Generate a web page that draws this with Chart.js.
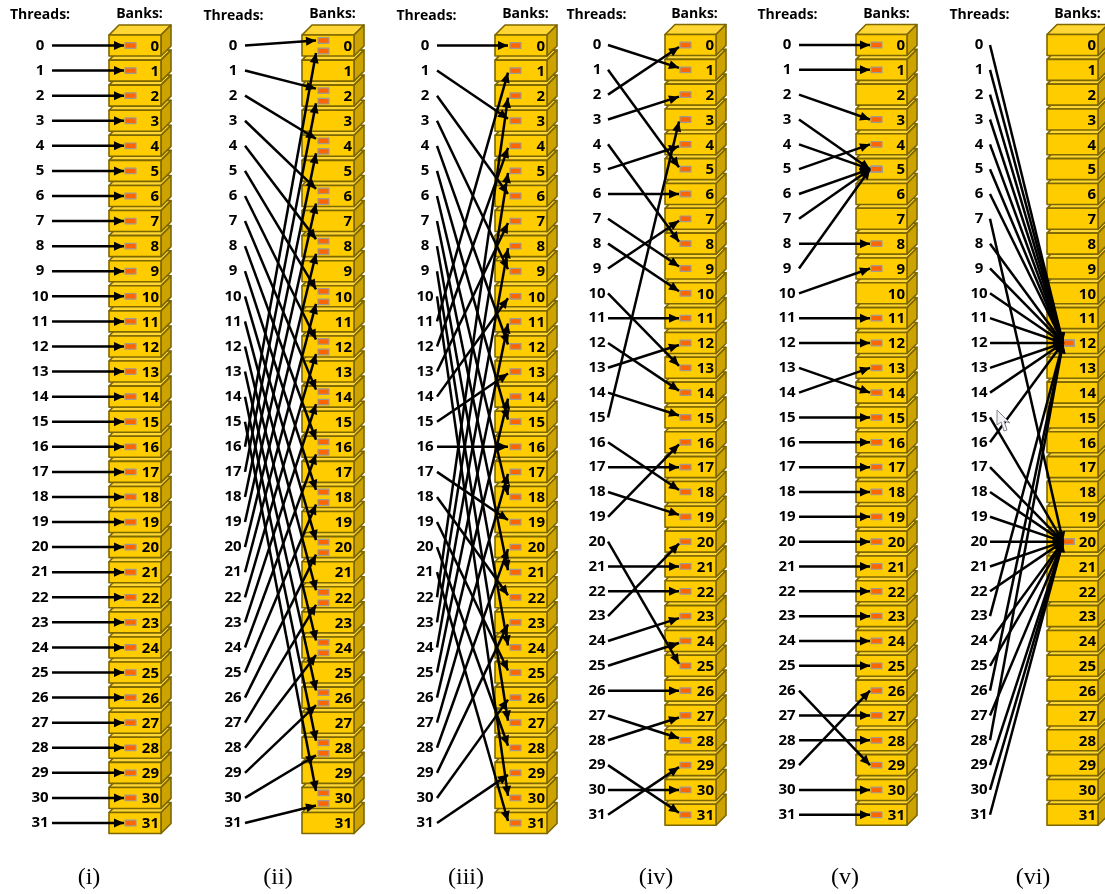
<!DOCTYPE html>
<html lang="en">
<head>
    <meta charset="UTF-8">
    <title>Threads to banks mappings</title>
    <script src="https://cdn.jsdelivr.net/npm/chart.js"></script>
    <style>
        html, body {
            margin: 0;
            padding: 0;
            background: #ffffff;
        }
        canvas {
            display: block;
        }
    </style>
</head>
<body>
    <canvas id="myChart" width="1105" height="894"></canvas>

    <script>
        // bank reached by each thread, index = thread number
        var banksI = [0, 1, 2, 3, 4, 5, 6, 7, 8, 9, 10, 11, 12, 13, 14, 15, 16, 17, 18, 19, 20, 21, 22, 23, 24, 25, 26, 27, 28, 29, 30, 31];
        var banksII = [0, 2, 4, 6, 8, 10, 12, 14, 16, 18, 20, 22, 24, 26, 28, 30, 0, 2, 4, 6, 8, 10, 12, 14, 16, 18, 20, 22, 24, 26, 28, 30];
        var banksIII = [0, 3, 6, 9, 12, 15, 18, 21, 24, 27, 30, 1, 4, 7, 10, 13, 16, 19, 22, 25, 28, 31, 2, 5, 8, 11, 14, 17, 20, 23, 26, 29];
        var banksIV = [1, 5, 0, 2, 8, 4, 6, 9, 10, 7, 13, 11, 14, 12, 15, 3, 18, 17, 19, 16, 25, 21, 22, 20, 23, 24, 26, 28, 27, 31, 30, 29];
        var banksV = [0, 1, 3, 5, 5, 4, 5, 5, 8, 5, 9, 11, 12, 14, 13, 15, 16, 17, 18, 19, 20, 21, 22, 23, 24, 25, 29, 27, 28, 26, 30, 31];
        var banksVI = [12, 12, 12, 12, 12, 12, 12, 20, 12, 12, 12, 12, 12, 12, 12, 20, 12, 20, 20, 20, 20, 20, 20, 12, 20, 20, 12, 20, 12, 20, 20, 20];

        // panel (ii) has two queues per bank: 0 = upper, 1 = lower
        var queuesII = [0, 0, 0, 0, 0, 0, 0, 0, 0, 0, 0, 0, 0, 0, 0, 0, 1, 1, 1, 1, 1, 1, 1, 1, 1, 1, 1, 1, 1, 1, 1, 1];

        var threadLabels = [];
        for (var n = 0; n < 32; n++) {
            threadLabels.push(String(n));
        }

        var panelNames = ['(i)', '(ii)', '(iii)', '(iv)', '(v)', '(vi)'];
        var panelBanks = [banksI, banksII, banksIII, banksIV, banksV, banksVI];

        // layout of the panels, in x scale units
        var panels = [
            { axis: 'y', threadX: 40, lineX: 52, tipX: 124, left: 109, right: 161, rectX: 125, threadsX: 40, banksX: 139.5, nameX: 89 },
            { axis: 'y', threadX: 233, lineX: 245, tipX: 316, left: 302, right: 354, rectX: 318, threadsX: 233.5, banksX: 332.5, nameX: 278 },
            { axis: 'y', threadX: 425, lineX: 437, tipX: 508, left: 495, right: 547, rectX: 510, threadsX: 426.5, banksX: 525.5, nameX: 466 },
            { axis: 'y2', threadX: 597, lineX: 608, tipX: 679, left: 665, right: 716, rectX: 680, threadsX: 596.5, banksX: 694.5, nameX: 656 },
            { axis: 'y2', threadX: 787, lineX: 799, tipX: 870, left: 856, right: 907, rectX: 871, threadsX: 787.5, banksX: 886.5, nameX: 845 },
            { axis: 'y2', threadX: 979, lineX: 990, tipX: 1063, left: 1047, right: 1098, rectX: 1063, threadsX: 979.5, banksX: 1077.5, nameX: 1033 }
        ];

        function queueOffset(panelIndex, thread) {
            return panelIndex === 1 ? (queuesII[thread] === 0 ? -0.2 : 0.22) : 0;
        }

        // arrows of the first four panels stop a little short of the queue, the fans meet in one point
        function tipOffset(panelIndex, thread, bank) {
            return panelIndex < 4 ? Math.sign(thread - bank) * 0.08 : 0;
        }

        // one line dataset per arrow
        var datasets = [];
        panelBanks.forEach(function(banks, p) {
            banks.forEach(function(bank, thread) {
                var end = bank + queueOffset(p, thread) + tipOffset(p, thread, bank);
                datasets.push({
                    type: 'scatter',
                    showLine: true,
                    yAxisID: panels[p].axis,
                    data: [{ x: panels[p].lineX, y: thread }, { x: panels[p].tipX, y: end }],
                    borderColor: '#000000',
                    borderWidth: 2.5,
                    pointRadius: 0,
                    tension: 0
                });
            });
        });

        function drawBank(ctx, panel, yScale, bank) {
            var cy = yScale.getPixelForValue(bank);
            var top = cy - 10.5;
            var bottom = cy + 10.5;
            var depth = 10;

            ctx.lineWidth = 1.6;
            ctx.strokeStyle = '#7d6700';
            ctx.lineJoin = 'round';

            // top face
            ctx.fillStyle = '#ffd633';
            ctx.beginPath();
            ctx.moveTo(panel.left, top);
            ctx.lineTo(panel.left + depth, top - depth);
            ctx.lineTo(panel.right + depth, top - depth);
            ctx.lineTo(panel.right, top);
            ctx.closePath();
            ctx.fill();
            ctx.stroke();

            // side face
            ctx.fillStyle = '#cca300';
            ctx.beginPath();
            ctx.moveTo(panel.right, top);
            ctx.lineTo(panel.right + depth, top - depth);
            ctx.lineTo(panel.right + depth, bottom - depth);
            ctx.lineTo(panel.right, bottom);
            ctx.closePath();
            ctx.fill();
            ctx.stroke();

            // front face
            ctx.fillStyle = '#ffcc00';
            ctx.fillRect(panel.left, top, panel.right - panel.left, bottom - top);
            ctx.strokeRect(panel.left, top, panel.right - panel.left, bottom - top);
        }

        function drawQueue(ctx, panel, yScale, value) {
            var cy = yScale.getPixelForValue(value);
            ctx.fillStyle = '#ff6600';
            ctx.strokeStyle = '#a09a90';
            ctx.lineWidth = 1.2;
            ctx.fillRect(panel.rectX, cy - 2.8, 11, 5.6);
            ctx.strokeRect(panel.rectX, cy - 2.8, 11, 5.6);
        }

        var bankStackPlugin = {
            id: 'bankStack',
            beforeDatasetsDraw: function(chart) {
                var ctx = chart.ctx;
                ctx.save();
                panels.forEach(function(panel, p) {
                    var yScale = chart.scales[panel.axis];
                    // from the bottom up, each bank hides the top of the one below
                    for (var bank = 31; bank >= 0; bank--) {
                        drawBank(ctx, panel, yScale, bank);
                    }
                    panelBanks[p].forEach(function(bank, thread) {
                        var off = queueOffset(p, thread);
                        drawQueue(ctx, panel, yScale, bank + off);
                    });
                });
                ctx.restore();
            }
        };

        var arrowHeadPlugin = {
            id: 'arrowHead',
            afterDatasetsDraw: function(chart) {
                var ctx = chart.ctx;
                ctx.save();
                ctx.fillStyle = '#000000';
                chart.data.datasets.forEach(function(ds, i) {
                    var pts = chart.getDatasetMeta(i).data;
                    var a = pts[0];
                    var b = pts[1];
                    var angle = Math.atan2(b.y - a.y, b.x - a.x);
                    ctx.save();
                    ctx.translate(b.x, b.y);
                    ctx.rotate(angle);
                    ctx.beginPath();
                    ctx.moveTo(0, 0);
                    ctx.lineTo(-10, -4.5);
                    ctx.lineTo(-10, 4.5);
                    ctx.closePath();
                    ctx.fill();
                    ctx.restore();
                });
                ctx.restore();
            }
        };

        var textPlugin = {
            id: 'panelText',
            afterDraw: function(chart) {
                var ctx = chart.ctx;
                var xScale = chart.scales.x;
                ctx.save();
                ctx.textBaseline = 'middle';
                ctx.fillStyle = '#000000';

                panels.forEach(function(panel, p) {
                    var yScale = chart.scales[panel.axis];

                    ctx.font = 'bold 14px "Open Sans"';
                    ctx.textAlign = 'center';
                    ctx.fillText('Threads:', xScale.getPixelForValue(panel.threadsX), p === 0 || p > 2 ? 15 : 16);
                    ctx.fillText('Banks:', xScale.getPixelForValue(panel.banksX), 14);

                    ctx.font = 'bold 15px "Open Sans"';
                    threadLabels.forEach(function(label, i) {
                        var y = yScale.getPixelForValue(i);
                        ctx.textAlign = 'center';
                        ctx.fillStyle = '#000000';
                        ctx.fillText(label, xScale.getPixelForValue(panel.threadX), y);
                        ctx.textAlign = 'right';
                        ctx.fillText(label, xScale.getPixelForValue(panel.right - 2), y + 1);
                    });

                    ctx.font = '24px "Liberation Serif"';
                    ctx.textAlign = 'center';
                    ctx.fillText(panelNames[p], xScale.getPixelForValue(panel.nameX), 878);
                });

                // mouse pointer caught in the screenshot
                var px = xScale.getPixelForValue(997);
                ctx.fillStyle = '#f2f2f6';
                ctx.strokeStyle = '#85858f';
                ctx.lineWidth = 1;
                ctx.beginPath();
                ctx.moveTo(px, 410);
                ctx.lineTo(px, 425);
                ctx.lineTo(px + 4, 422);
                ctx.lineTo(px + 7, 431);
                ctx.lineTo(px + 10, 430);
                ctx.lineTo(px + 7, 421);
                ctx.lineTo(px + 13, 423);
                ctx.closePath();
                ctx.fill();
                ctx.stroke();
                ctx.restore();
            }
        };

        var ctx = document.getElementById('myChart').getContext('2d');
        var myChart = new Chart(ctx, {
            type: 'scatter',
            data: { datasets: datasets },
            plugins: [bankStackPlugin, arrowHeadPlugin, textPlugin],
            options: {
                responsive: false,
                animation: false,
                events: [],
                layout: { padding: 0 },
                plugins: {
                    legend: { display: false },
                    tooltip: { enabled: false },
                    title: { display: false }
                },
                scales: {
                    x: { type: 'linear', min: 0, max: 1105, display: false },
                    // thread numbers run downwards, first three panels are a bit looser than the last three
                    y: { type: 'linear', reverse: true, min: -1.814, max: 33.83, display: false },
                    y2: { type: 'linear', reverse: true, min: -1.812, max: 34.19, display: false }
                }
            }
        });
    </script>
</body>
</html>
